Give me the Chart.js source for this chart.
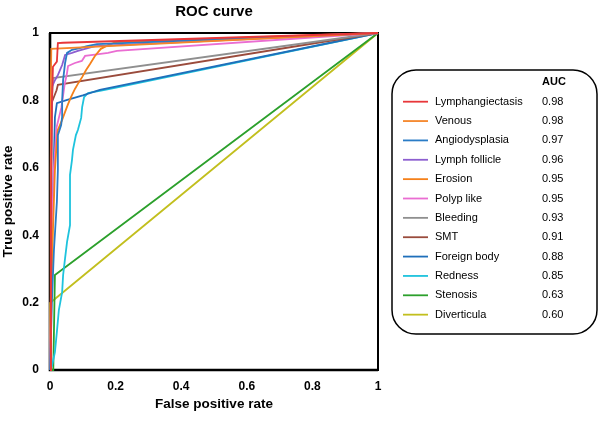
<!DOCTYPE html>
<html><head><meta charset="utf-8">
<script src="https://cdn.jsdelivr.net/npm/chart.js@4/dist/chart.umd.min.js"></script>
<style>html,body{margin:0;padding:0;background:#fff}</style>
</head><body>
<canvas id="c" width="600" height="423" style="display:block;width:600px;height:423px"></canvas>
<script>
// ---- data ----
const seriesNames = ['Lymphangiectasis','Venous','Angiodysplasia','Lymph follicle','Erosion','Polyp like','Bleeding','SMT','Foreign body','Redness','Stenosis','Diverticula'];
const aucValues = ['0.98','0.98','0.97','0.96','0.95','0.95','0.93','0.91','0.88','0.85','0.63','0.60'];
const axisTicks = [0, 0.2, 0.4, 0.6, 0.8, 1];

const lymphangiectasisFpr = [0, 0.003, 0.006, 0.009, 0.021, 0.024, 0.04, 1];
const lymphangiectasisTpr = [0, 0.5, 0.8, 0.9, 0.915, 0.97, 0.971, 1];
const venousFpr = [0, 0.002, 0.003, 0.004, 1];
const venousTpr = [0, 0.5, 0.85, 0.953, 1];
const angiodysplasiaFpr = [0, 0.006, 0.012, 0.021, 0.024, 0.024, 0.034, 0.037, 0.037, 0.040, 0.046, 0.052, 0.067, 0.091, 0.113, 0.143, 1];
const angiodysplasiaTpr = [0, 0.208, 0.356, 0.499, 0.593, 0.697, 0.727, 0.751, 0.80, 0.861, 0.911, 0.941, 0.950, 0.955, 0.961, 0.967, 1];
const lymphFollicleFpr = [0, 0.003, 0.006, 0.015, 0.024, 0.037, 0.046, 0.067, 0.085, 0.107, 0.137, 1];
const lymphFollicleTpr = [0, 0.5, 0.84, 0.86, 0.875, 0.905, 0.935, 0.941, 0.947, 0.953, 0.961, 1];
const erosionFpr = [0, 0.003, 0.009, 0.015, 0.021, 0.024, 0.037, 0.046, 0.055, 0.064, 0.076, 0.085, 0.098, 0.110, 0.122, 0.137, 0.155, 0.177, 0.201, 1];
const erosionTpr = [0, 0.208, 0.415, 0.593, 0.682, 0.712, 0.742, 0.766, 0.789, 0.810, 0.834, 0.849, 0.869, 0.890, 0.908, 0.932, 0.953, 0.964, 0.973, 1];
const polypLikeFpr = [0, 0.005, 0.012, 0.02, 0.035, 0.045, 0.051, 0.055, 0.076, 0.097, 0.107, 0.137, 0.177, 0.204, 1];
const polypLikeTpr = [0, 0.4, 0.6, 0.72, 0.78, 0.85, 0.876, 0.902, 0.911, 0.917, 0.932, 0.936, 0.941, 0.947, 1];
const bleedingFpr = [0, 0.003, 0.006, 0.009, 1];
const bleedingTpr = [0, 0.5, 0.8, 0.866, 1];
const smtFpr = [0, 0.002, 0.004, 0.012, 0.02, 0.024, 1];
const smtTpr = [0, 0.6, 0.79, 0.81, 0.83, 0.846, 1];
const foreignBodyFpr = [0, 0.003, 0.006, 0.01, 0.015, 0.021, 0.05, 0.1, 0.152, 1];
const foreignBodyTpr = [0, 0.2, 0.4, 0.55, 0.75, 0.792, 0.801, 0.815, 0.831, 1];
const rednessFpr = [0, 0.006, 0.015, 0.021, 0.027, 0.037, 0.040, 0.046, 0.052, 0.061, 0.061, 0.067, 0.070, 0.079, 0.085, 0.095, 0.098, 0.104, 0.116, 0.152, 0.198, 1];
const rednessTpr = [0, 0.012, 0.053, 0.113, 0.178, 0.231, 0.282, 0.332, 0.380, 0.430, 0.579, 0.623, 0.653, 0.697, 0.712, 0.748, 0.780, 0.810, 0.822, 0.828, 0.837, 1];
const stenosisFpr = [0, 0.01, 0.015, 1];
const stenosisTpr = [0, 0, 0.282, 1];
const diverticulaFpr = [0, 0, 1];
const diverticulaTpr = [0, 0.199, 1];

const fprSeries = [lymphangiectasisFpr, venousFpr, angiodysplasiaFpr, lymphFollicleFpr, erosionFpr, polypLikeFpr, bleedingFpr, smtFpr, foreignBodyFpr, rednessFpr, stenosisFpr, diverticulaFpr];
const tprSeries = [lymphangiectasisTpr, venousTpr, angiodysplasiaTpr, lymphFollicleTpr, erosionTpr, polypLikeTpr, bleedingTpr, smtTpr, foreignBodyTpr, rednessTpr, stenosisTpr, diverticulaTpr];

// ---- styles ----
const seriesColors = ['#e8373a','#f5862a','#2a7cc6','#8d5fd0','#f5801a','#ea6dd2','#8f8f8f','#9a4b3c','#1f6fba','#1ec3dd','#2ca02c','#c2bf1e'];
const FONT = "'Liberation Sans', Arial, Helvetica, sans-serif";
Chart.defaults.font.family = FONT;
Chart.defaults.color = '#000';

const datasets = seriesNames.map((name, i) => ({
  label: name,
  data: fprSeries[i].map((x, j) => ({x: x, y: tprSeries[i][j]})),
  borderColor: seriesColors[i],
  backgroundColor: seriesColors[i],
  borderWidth: 1.8,
  showLine: true,
  pointRadius: 0,
  tension: 0,
  fill: false,
  clip: 3
}));

const overlay = {
  id: 'overlay',
  beforeDatasetsDraw(chart) {
    const {ctx, chartArea: a} = chart;
    ctx.save();
    ctx.strokeStyle = '#000';
    ctx.lineWidth = 2;
    ctx.strokeRect(a.left, a.top, a.right - a.left, a.bottom - a.top);
    ctx.lineWidth = 2.6;
    ctx.beginPath();
    ctx.moveTo(a.left, a.top);
    ctx.lineTo(a.left, a.bottom);
    ctx.lineTo(a.right, a.bottom);
    ctx.stroke();
    ctx.restore();
  },
  afterDraw(chart) {
    const {ctx, chartArea: a} = chart;
    ctx.save();
    // title
    ctx.fillStyle = '#000';
    ctx.font = 'bold 15px ' + FONT;
    ctx.textAlign = 'center';
    ctx.textBaseline = 'middle';
    ctx.fillText('ROC curve', (a.left + a.right) / 2, 12);
    // legend box
    ctx.beginPath();
    ctx.roundRect(392, 70, 205, 264, 24);
    ctx.lineWidth = 1.5;
    ctx.strokeStyle = '#000';
    ctx.stroke();
    ctx.textAlign = 'left';
    ctx.font = 'bold 11px ' + FONT;
    ctx.fillText('AUC', 542, 82);
    ctx.font = '11px ' + FONT;
    seriesNames.forEach((name, i) => {
      const y = 101.7 + i * 19.36;
      ctx.beginPath();
      ctx.moveTo(403, y);
      ctx.lineTo(428, y);
      ctx.strokeStyle = seriesColors[i];
      ctx.lineWidth = 1.8;
      ctx.stroke();
      ctx.fillStyle = '#000';
      ctx.fillText(name, 435, y);
      ctx.fillText(aucValues[i], 542, y);
    });
    ctx.restore();
  }
};

const tickFmt = v => (v === 0 || v === 1) ? String(v) : v.toFixed(1);

new Chart(document.getElementById('c'), {
  type: 'scatter',
  data: {datasets},
  options: {
    responsive: false,
    animation: false,
    devicePixelRatio: 1,
    layout: {padding: {top: 33, right: 222, left: 0, bottom: 0}},
    plugins: {legend: {display: false}, tooltip: {enabled: false}, title: {display: false}},
    scales: {
      x: {
        type: 'linear', min: 0, max: 1,
        afterBuildTicks: s => { s.ticks = axisTicks.map(v => ({value: v})); },
        afterFit: s => { s.height = 53; },
        grid: {display: false, drawTicks: false},
        border: {display: false},
        ticks: {padding: 9, color: '#000', font: {size: 12, weight: 'bold'}, callback: tickFmt, maxRotation: 0},
        title: {display: true, text: 'False positive rate', color: '#000', font: {size: 13.5, weight: 'bold'}, padding: {top: 0, bottom: 11}}
      },
      y: {
        type: 'linear', min: 0, max: 1,
        afterBuildTicks: s => { s.ticks = axisTicks.map(v => ({value: v})); },
        afterFit: s => { s.width = 50; },
        grid: {display: false, drawTicks: false},
        border: {display: false},
        ticks: {padding: 11, color: '#000', font: {size: 12, weight: 'bold'}, callback: tickFmt},
        title: {display: true, text: 'True positive rate', color: '#000', font: {size: 13.5, weight: 'bold'}, padding: {top: 0, bottom: 0}}
      }
    }
  },
  plugins: [overlay]
});
</script>
</body></html>
